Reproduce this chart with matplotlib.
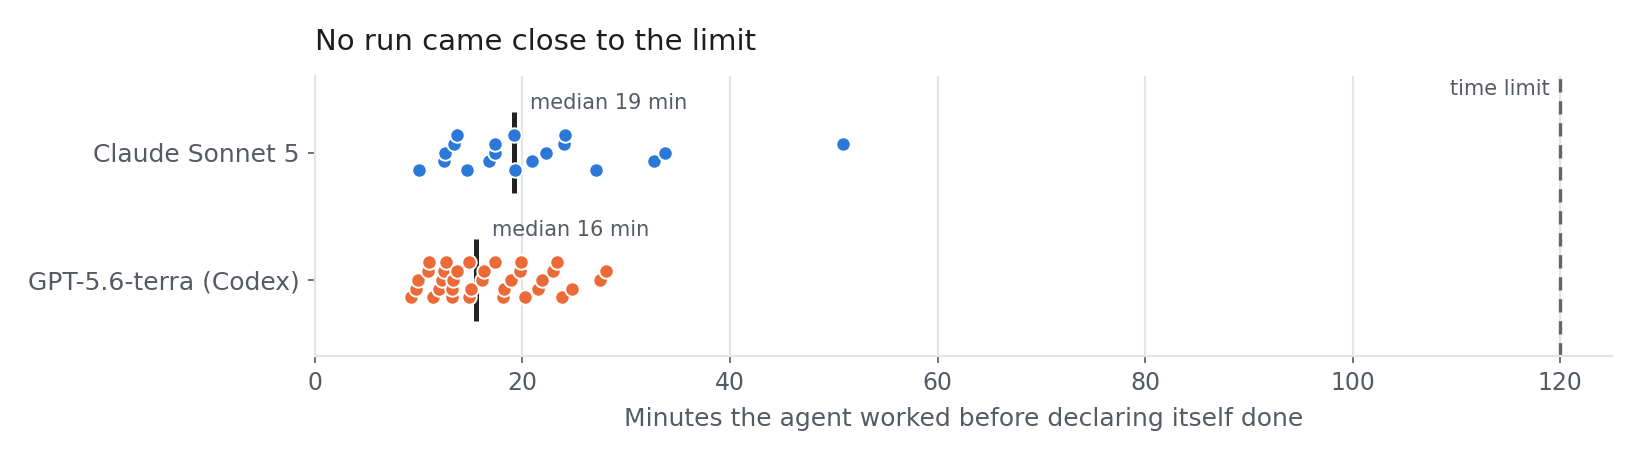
import matplotlib
matplotlib.use("Agg")
import matplotlib.pyplot as plt
import numpy as np

# minutes per run
claude_minutes = [10.05, 12.46, 12.52, 13.39, 13.74, 14.61, 16.76, 17.34, 17.40, 19.20,
                  19.27, 20.90, 22.25, 24.00, 24.08, 27.07, 32.66, 33.72, 50.87]
claude_levels = [-2, -1, 0, 1, 2, -2, -1, 0, 1, 2,
                 -2, -1, 0, 1, 2, -2, -1, 0, 1]

gpt_minutes = [9.25, 9.70, 9.96, 10.86, 10.98, 11.34, 11.98, 12.26, 12.43, 12.62,
               13.17, 13.26, 13.33, 13.71, 14.87, 14.87, 15.00, 16.06, 16.28, 17.34,
               18.08, 18.24, 18.85, 19.75, 19.85, 20.23, 21.50, 21.84, 22.96, 23.35,
               23.77, 24.73, 27.46, 28.03]
gpt_levels = [-2, -1, 0, 1, 2, -2, -1, 0, 1, 2,
              -2, -1, 0, 1, 2, -2, -1, 0, 1, 2,
              -2, -1, 0, 1, 2, -2, -1, 0, 1, 2,
              -2, -1, 0, 1]

models = ["GPT-5.6-terra (Codex)", "Claude Sonnet 5"]
time_limit = 120

TEXT = "#555a64"
GRID = "#e4e4e4"

fig, ax = plt.subplots(figsize=(8.2, 2.295), dpi=200)
fig.subplots_adjust(left=0.192, right=0.983, bottom=0.224, top=0.834)

rows = [(gpt_minutes, gpt_levels, "#ec6a37"), (claude_minutes, claude_levels, "#2b78d9")]
step = 0.069
for i, (mins, lev, col) in enumerate(rows):
    y = i + np.array(lev) * step
    med = np.median(mins)
    ax.plot([med, med], [i - 0.32, i + 0.32], color="#222222", lw=1.8, zorder=3, solid_capstyle="butt")
    ax.scatter(mins, y, s=27, color=col, edgecolor="white", linewidth=0.7, zorder=4)
    ax.text(med + 1.5, i + 0.39, "median %d min" % round(med), fontsize=7.5, color=TEXT,
            ha="left", va="center", zorder=5)

ax.axvline(time_limit, color="#5f6470", lw=1.2, dashes=(4, 2.6), zorder=2)
ax.text(time_limit - 1, 1.5, "time limit", fontsize=7.5, color=TEXT, ha="right", va="center")

ax.set_xlim(0, 125)
ax.set_ylim(-0.6, 1.6)
ax.set_xticks([0, 20, 40, 60, 80, 100, 120])
ax.set_yticks([0, 1])
ax.set_yticklabels(models)
ax.grid(axis="x", color=GRID, lw=0.8, zorder=0)
ax.set_axisbelow(True)
for s in ["top", "right"]:
    ax.spines[s].set_visible(False)
for s in ["left", "bottom"]:
    ax.spines[s].set_color(GRID)
    ax.spines[s].set_linewidth(0.8)
ax.tick_params(axis="both", colors="#555a64", length=2.5, width=0.6, labelsize=9, pad=3)
ax.tick_params(axis="x", labelsize=8.5)
ax.set_xlabel("Minutes the agent worked before declaring itself done", fontsize=9, color=TEXT, labelpad=4)
ax.set_title("No run came close to the limit", loc="left", fontsize=10.5, color="#1e1e1e", pad=9.5)

fig.savefig("out.png", dpi=200)
